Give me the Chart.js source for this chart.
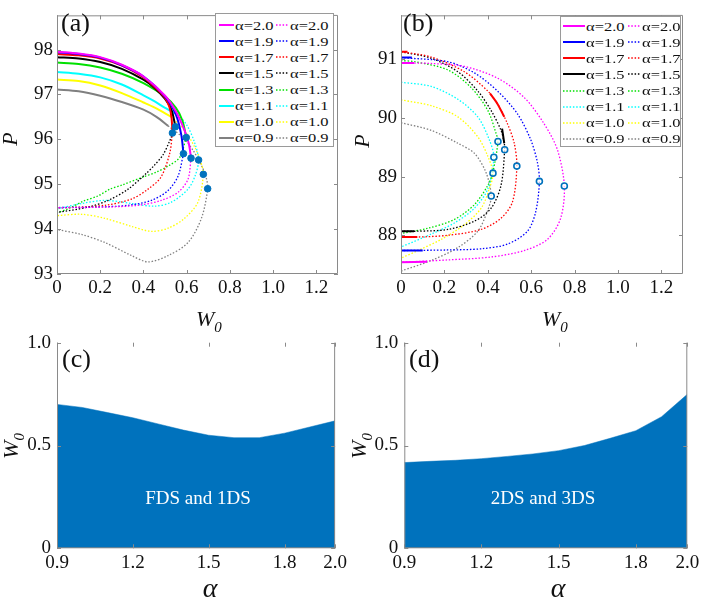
<!DOCTYPE html>
<html>
<head>
<meta charset="utf-8">
<script src="https://cdn.jsdelivr.net/npm/chart.js@4.4.1/dist/chart.umd.min.js"></script>
<style>
  body { margin: 0; background: #fff; width: 706px; height: 604px; position: relative; overflow: hidden;
         font-family: "Liberation Serif", "Times New Roman", serif; color: #111; }
  .panel { position: absolute; }
  .lab { position: absolute; font-size: 26px; line-height: 1; }
  .axt { position: absolute; font-style: italic; font-size: 22px; line-height: 1; white-space: nowrap; }
  .axt sub { font-size: 15px; vertical-align: -6px; }
  .legend { position: absolute; background: #fff; border: 1px solid #9a9a9a; box-sizing: border-box; }
  .legend span { position: absolute; font-size: 13.5px; line-height: 15px; white-space: nowrap;
                 transform: scaleX(1.22); transform-origin: left center; }
  .legend svg { position: absolute; overflow: visible; }
  .note { position: absolute; color: #fff; font-size: 19px; line-height: 1; white-space: nowrap; transform: translate(-50%, -50%); }
</style>
</head>
<body>
<div class="panel" style="left:0;top:0;width:350px;height:300px"><canvas id="chartA"></canvas></div>
<div class="panel" style="left:350px;top:0;width:356px;height:300px"><canvas id="chartB"></canvas></div>
<div class="panel" style="left:0;top:300px;width:350px;height:304px"><canvas id="chartC"></canvas></div>
<div class="panel" style="left:350px;top:300px;width:356px;height:304px"><canvas id="chartD"></canvas></div>

<div class="lab" style="left:61px;top:10px">(a)</div>
<div class="lab" style="left:403px;top:10px">(b)</div>
<div class="lab" style="left:62px;top:346px">(c)</div>
<div class="lab" style="left:409px;top:346px">(d)</div>

<div class="axt" style="left:196px;top:308px">W<sub>0</sub></div>
<div class="axt" style="left:542px;top:308px">W<sub>0</sub></div>
<div class="axt" style="left:10px;top:139px;transform:translate(-50%,-50%) rotate(-90deg)">P</div>
<div class="axt" style="left:362px;top:141px;transform:translate(-50%,-50%) rotate(-90deg)">P</div>
<div class="axt" style="left:13px;top:446px;transform:translate(-50%,-50%) rotate(-90deg)">W<sub>0</sub></div>
<div class="axt" style="left:361px;top:446px;transform:translate(-50%,-50%) rotate(-90deg)">W<sub>0</sub></div>
<div class="axt" style="left:210px;top:588px;font-size:28px;transform:translate(-50%,-50%)">α</div>
<div class="axt" style="left:558px;top:588px;font-size:28px;transform:translate(-50%,-50%)">α</div>

<div class="note" style="left:198px;top:497px">FDS and 1DS</div>
<div class="note" style="left:543px;top:497px">2DS and 3DS</div>

<script>
const alphaLabels = ['2.0', '1.9', '1.7', '1.5', '1.3', '1.1', '1.0', '0.9'];
const lineColors = ['#ff00ff', '#0000ff', '#ff0000', '#000000', '#00e000', '#00ffff', '#ffff00', '#808080'];

// (a) upper branches (solid) and lower branches (dotted), [W0, P]
const aSolid20 = [[0,97.95],[0.1,97.91],[0.2,97.83],[0.3,97.66],[0.4,97.4],[0.5,96.97],[0.55,96.62],[0.59,96.2],[0.61,95.9],[0.62,95.58]];
const aSolid19 = [[0,97.94],[0.1,97.9],[0.2,97.82],[0.3,97.65],[0.4,97.4],[0.5,96.95],[0.55,96.55],[0.575,96.1],[0.585,95.68]];
const aSolid17 = [[0,97.9],[0.1,97.87],[0.2,97.8],[0.3,97.64],[0.4,97.38],[0.45,97.17],[0.5,96.92],[0.52,96.72],[0.53,96.48],[0.534,96.14]];
const aSolid15 = [[0,97.83],[0.1,97.8],[0.2,97.72],[0.3,97.57],[0.4,97.33],[0.45,97.15],[0.5,96.9],[0.53,96.65],[0.548,96.28]];
const aSolid13 = [[0,97.71],[0.1,97.68],[0.2,97.6],[0.3,97.46],[0.4,97.25],[0.5,96.95],[0.55,96.7],[0.58,96.42],[0.598,96.04]];
const aSolid11 = [[0,97.5],[0.1,97.46],[0.2,97.38],[0.3,97.22],[0.4,96.98],[0.45,96.85],[0.5,96.7],[0.56,96.55]];
const aSolid10 = [[0,97.33],[0.1,97.3],[0.2,97.2],[0.3,97.03],[0.4,96.82],[0.45,96.71],[0.529,96.5]];
const aSolid09 = [[0,97.11],[0.1,97.07],[0.2,96.97],[0.3,96.83],[0.4,96.66],[0.46,96.5],[0.514,96.3]];

const aDotted20 = [[0.62,95.58],[0.606,95.11],[0.56,94.82],[0.483,94.64],[0.375,94.53],[0.222,94.49],[0.1,94.48],[0,94.48]];
const aDotted19 = [[0.585,95.68],[0.56,95.18],[0.514,94.86],[0.437,94.64],[0.329,94.53],[0.175,94.49],[0,94.48]];
const aDotted17 = [[0.534,96.14],[0.521,95.68],[0.48,95.15],[0.421,94.89],[0.345,94.67],[0.222,94.53],[0,94.47]];
const aDotted15 = [[0.548,96.28],[0.52,95.95],[0.49,95.65],[0.45,95.42],[0.415,95.25],[0.329,94.89],[0.237,94.64],[0.144,94.49],[0,94.37]];
const aDotted13 = [[0.598,96.04],[0.568,95.6],[0.52,95.42],[0.46,95.27],[0.398,95.16],[0.3,94.98],[0.245,94.89],[0.19,94.74],[0.121,94.62],[0.06,94.47],[0,94.36]];
const aDotted11 = [[0.56,96.55],[0.6,96.32],[0.635,95.95],[0.655,95.54],[0.64,95.2],[0.606,94.89],[0.529,94.6],[0.452,94.51],[0.345,94.57],[0.222,94.64],[0.114,94.57],[0,94.45]];
const aDotted10 = [[0.529,96.5],[0.59,96.2],[0.64,95.8],[0.665,95.5],[0.677,95.22],[0.652,94.6],[0.59,94.24],[0.514,94.02],[0.437,93.95],[0.345,94.06],[0.222,94.24],[0.114,94.33],[0,94.3]];
const aDotted09 = [[0.514,96.3],[0.58,96.05],[0.63,95.75],[0.67,95.4],[0.69,95.15],[0.697,94.9],[0.668,94.24],[0.606,93.7],[0.514,93.41],[0.421,93.27],[0.345,93.41],[0.222,93.7],[0.114,93.88],[0,93.99]];

const aTurnW = [0.62, 0.585, 0.534, 0.548, 0.598, 0.655, 0.677, 0.697];
const aTurnP = [95.58, 95.68, 96.14, 96.28, 96.04, 95.54, 95.22, 94.9];
const aTicksX = [0, 0.2, 0.4, 0.6, 0.8, 1.0, 1.2];
const aTicksY = [93, 94, 95, 96, 97, 98];

// (b) full curves (dotted) plus short solid pieces
const bDotted20 = [[0,90.94],[0.139,90.93],[0.292,90.88],[0.445,90.68],[0.568,90.35],[0.66,89.9],[0.721,89.46],[0.753,88.84],[0.736,88.29],[0.675,87.93],[0.568,87.74],[0.415,87.63],[0.216,87.58],[0,87.54]];
const bDotted19 = [[0,91.03],[0.216,90.96],[0.338,90.77],[0.445,90.46],[0.537,90.07],[0.598,89.63],[0.629,89.24],[0.638,88.92],[0.621,88.4],[0.583,88.07],[0.491,87.85],[0.369,87.77],[0.216,87.75],[0,87.74]];
const bDotted17 = [[0,91.13],[0.139,91.04],[0.292,90.79],[0.4,90.46],[0.445,90.24],[0.491,89.9],[0.522,89.57],[0.534,89.18],[0.514,88.57],[0.461,88.29],[0.369,88.1],[0.216,88.0],[0.078,87.97],[0,87.97]];
const bDotted15 = [[0,91.13],[0.139,91.02],[0.262,90.79],[0.354,90.46],[0.415,90.13],[0.461,89.79],[0.476,89.57],[0.478,89.46],[0.461,88.85],[0.415,88.46],[0.338,88.24],[0.216,88.1],[0.078,88.07],[0,88.07]];
const bDotted13 = [[0,90.98],[0.063,90.96],[0.216,90.82],[0.323,90.52],[0.4,90.13],[0.438,89.74],[0.447,89.6],[0.423,89.07],[0.4,88.85],[0.338,88.52],[0.246,88.27],[0.124,88.12],[0,88.03]];
const bDotted11 = [[0,90.61],[0.139,90.54],[0.262,90.32],[0.354,90.02],[0.407,89.63],[0.428,89.33],[0.4,88.79],[0.338,88.46],[0.246,88.21],[0.139,88.02],[0,87.8]];
const bDotted10 = [[0,90.31],[0.139,90.21],[0.262,90.02],[0.354,89.68],[0.4,89.35],[0.424,89.06],[0.407,88.79],[0.369,88.46],[0.292,88.18],[0.185,87.93],[0.078,87.74],[0,87.61]];
const bDotted09 = [[0,89.92],[0.139,89.79],[0.262,89.57],[0.338,89.4],[0.392,89.07],[0.416,88.67],[0.4,88.43],[0.354,88.07],[0.262,87.79],[0.139,87.57],[0,87.39]];

const bSolid20 = [[[0,90.94],[0.06,90.94]], [[0,87.54],[0.12,87.55]]];
const bSolid19 = [[[0,91.03],[0.05,91.03]], [[0,87.74],[0.1,87.74]]];
const bSolid17 = [[[0,91.13],[0.03,91.13]], [[0.41,90.42],[0.445,90.24],[0.476,90.02]], [[0,87.97],[0.075,87.97]]];
const bSolid15 = [[[0.466,89.82],[0.476,89.57]], [[0,88.07],[0.06,88.07]]];

const bTurnW = [0.753, 0.638, 0.534, 0.478, 0.447, 0.428, 0.424, 0.416];
const bTurnP = [88.84, 88.92, 89.18, 89.46, 89.6, 89.33, 89.06, 88.67];
const bTicksX = [0, 0.2, 0.4, 0.6, 0.8, 1.0, 1.2];
const bTicksY = [88, 89, 90, 91];

// (c), (d) threshold W0 versus alpha
const alphaGrid = [0.9, 1.0, 1.1, 1.2, 1.3, 1.4, 1.5, 1.6, 1.7, 1.8, 1.9, 2.0];
const cW0 = [0.70, 0.685, 0.66, 0.635, 0.605, 0.575, 0.55, 0.538, 0.538, 0.56, 0.59, 0.62];
const dW0 = [0.417, 0.423, 0.428, 0.436, 0.447, 0.459, 0.475, 0.50, 0.535, 0.572, 0.64, 0.749];
const cdTicksX = [0.9, 1.2, 1.5, 1.8, 2.0];
const cdTicksY = [0, 0.5, 1.0];

const aSolid = [aSolid20, aSolid19, aSolid17, aSolid15, aSolid13, aSolid11, aSolid10, aSolid09];
const aDotted = [aDotted20, aDotted19, aDotted17, aDotted15, aDotted13, aDotted11, aDotted10, aDotted09];
const bDotted = [bDotted20, bDotted19, bDotted17, bDotted15, bDotted13, bDotted11, bDotted10, bDotted09];
const bSolid = [bSolid20, bSolid19, bSolid17, bSolid15, [], [], [], []];

const areaBlue = '#0072bd';
const axisGray = '#8a8a8a';

Chart.defaults.font.family = "'Liberation Serif', 'Times New Roman', serif";
Chart.defaults.color = '#111';

const toXY = pts => pts.map(([x, y]) => ({ x, y }));

// MATLAB-like box with inward ticks
const frame = {
  id: 'frame',
  afterDatasetsDraw(chart, args, opts) {
    const { ctx, chartArea: a, scales: { x, y } } = chart;
    const t = 4;
    ctx.save();
    ctx.strokeStyle = axisGray;
    ctx.lineWidth = 1;
    ctx.beginPath();
    ctx.moveTo(a.left + 0.5, a.top);
    ctx.lineTo(a.left + 0.5, a.bottom - 0.5);
    ctx.lineTo(a.right - 0.5, a.bottom - 0.5);
    ctx.lineTo(a.right - 0.5, a.top);
    if (opts.top) ctx.lineTo(a.left, a.top + 0.5);
    x.ticks.forEach(tk => {
      const px = Math.round(x.getPixelForValue(tk.value)) + 0.5;
      ctx.moveTo(px, a.bottom); ctx.lineTo(px, a.bottom - t);
      ctx.moveTo(px, a.top); ctx.lineTo(px, a.top + t);
    });
    y.ticks.forEach(tk => {
      const py = Math.round(y.getPixelForValue(tk.value)) + 0.5;
      ctx.moveTo(a.left, py); ctx.lineTo(a.left + t, py);
      ctx.moveTo(a.right, py); ctx.lineTo(a.right - t, py);
    });
    ctx.stroke();
    ctx.restore();
  }
};

function axis(min, max, ticks, fmt, size, pad, horizontal) {
  return {
    type: 'linear', min, max,
    afterBuildTicks: s => { s.ticks = ticks.map(v => ({ value: v })); },
    afterFit: s => { if (horizontal) s.height = size; else s.width = size; },
    grid: { display: false, drawTicks: false },
    border: { display: false },
    ticks: { font: { size: 19 }, padding: pad, maxRotation: 0, autoSkip: false, callback: fmt }
  };
}

const fmtDec = v => (v === 0 ? '0' : v.toFixed(1));
const fmtInt = v => String(v);

function curveChart(id, datasets, yMin, yMax, xTicks, yTicks, yWidth, padding) {
  return new Chart(document.getElementById(id), {
    type: 'scatter',
    data: { datasets },
    options: {
      responsive: true, maintainAspectRatio: false, animation: false,
      layout: { padding },
      plugins: { legend: { display: false }, tooltip: { enabled: false }, frame: { top: true } },
      scales: {
        x: axis(0, 1.3, xTicks, fmtDec, 26, 3, true),
        y: axis(yMin, yMax, yTicks, fmtInt, yWidth, 4, false)
      }
    },
    plugins: [frame]
  });
}

function solidSet(pts, color) {
  return { data: toXY(pts), showLine: true, borderColor: color, borderWidth: 2, pointRadius: 0, tension: 0.3 };
}
function dottedSet(pts, color) {
  return { data: toXY(pts), showLine: true, borderColor: color, borderWidth: 1.3, borderDash: [1.5, 1.8], pointRadius: 0, tension: 0.3 };
}

// panel (a)
const setsA = [{
  data: aTurnW.map((w, i) => ({ x: w, y: aTurnP[i] })),
  showLine: false, pointRadius: 3.3, pointBackgroundColor: areaBlue, pointBorderColor: areaBlue
}];
alphaLabels.forEach((a, i) => {
  setsA.push(solidSet(aSolid[i], lineColors[i]));
  setsA.push(dottedSet(aDotted[i], lineColors[i]));
});
curveChart('chartA', setsA, 93, 98.76, aTicksX, aTicksY, 57, { left: 0, top: 8, right: 12, bottom: 0 });

// panel (b)
const setsB = [{
  data: bTurnW.map((w, i) => ({ x: w, y: bTurnP[i] })),
  showLine: false, pointRadius: 3, pointBorderWidth: 1.6, pointBackgroundColor: 'rgba(255,255,255,0.7)', pointBorderColor: areaBlue
}];
alphaLabels.forEach((a, i) => {
  bSolid[i].forEach(seg => setsB.push(solidSet(seg, lineColors[i])));
  setsB.push(dottedSet(bDotted[i], lineColors[i]));
});
curveChart('chartB', setsB, 87.34, 91.75, bTicksX, bTicksY, 51, { left: 0, top: 9, right: 23, bottom: 0 });

// panels (c), (d)
function areaChart(id, values, yWidth, padding) {
  return new Chart(document.getElementById(id), {
    type: 'line',
    data: {
      datasets: [{
        data: alphaGrid.map((a, i) => ({ x: a, y: values[i] })),
        fill: 'origin', backgroundColor: areaBlue, borderColor: areaBlue, borderWidth: 0.5, pointRadius: 0, tension: 0
      }]
    },
    options: {
      responsive: true, maintainAspectRatio: false, animation: false,
      layout: { padding },
      plugins: { legend: { display: false }, tooltip: { enabled: false }, frame: { top: false } },
      scales: {
        x: axis(0.9, 2.0, cdTicksX, v => v.toFixed(1), 30, 3, true),
        y: axis(0, 1, cdTicksY, fmtDec, yWidth, 6, false)
      }
    },
    plugins: [frame]
  });
}
areaChart('chartC', cW0, 57, { left: 0, top: 42.7, right: 12, bottom: 25.7 });
areaChart('chartD', dW0, 54.3, { left: 0, top: 42.7, right: 18.7, bottom: 25.7 });

// legends (HTML so the alpha labels stay as text)
function buildLegend(left, top, width, height, rowY, lx, tx, rx, rtx, leftSolid) {
  const box = document.createElement('div');
  box.className = 'legend';
  Object.assign(box.style, { left: left + 'px', top: top + 'px', width: width + 'px', height: height + 'px' });
  alphaLabels.forEach((a, i) => {
    const cy = rowY - top + i * 16.05;
    [[lx, tx, leftSolid[i]], [rx, rtx, false]].forEach(([sx, txx, solid]) => {
      const svg = document.createElementNS('http://www.w3.org/2000/svg', 'svg');
      svg.setAttribute('width', sx[1] - sx[0]);
      svg.setAttribute('height', 4);
      svg.style.left = sx[0] + 'px';
      svg.style.top = (cy - 2) + 'px';
      const ln = document.createElementNS('http://www.w3.org/2000/svg', 'line');
      ln.setAttribute('x1', 0); ln.setAttribute('x2', sx[1] - sx[0]);
      ln.setAttribute('y1', 2); ln.setAttribute('y2', 2);
      ln.setAttribute('stroke', lineColors[i]);
      ln.setAttribute('stroke-width', solid ? 2 : 1.3);
      if (!solid) ln.setAttribute('stroke-dasharray', '1.5 1.8');
      svg.appendChild(ln);
      box.appendChild(svg);
      const sp = document.createElement('span');
      sp.textContent = 'α=' + a;
      sp.style.left = txx + 'px';
      sp.style.top = (cy - 7.5) + 'px';
      box.appendChild(sp);
    });
  });
  document.body.appendChild(box);
}
buildLegend(215, 13, 119, 134, 24.3, [3, 18], 19, [60, 73], 74, [true, true, true, true, true, true, true, true]);
buildLegend(560, 16, 121, 131, 25.3, [2, 24], 25, [67, 80], 81, [true, true, true, true, false, false, false, false]);
</script>
</body>
</html>
